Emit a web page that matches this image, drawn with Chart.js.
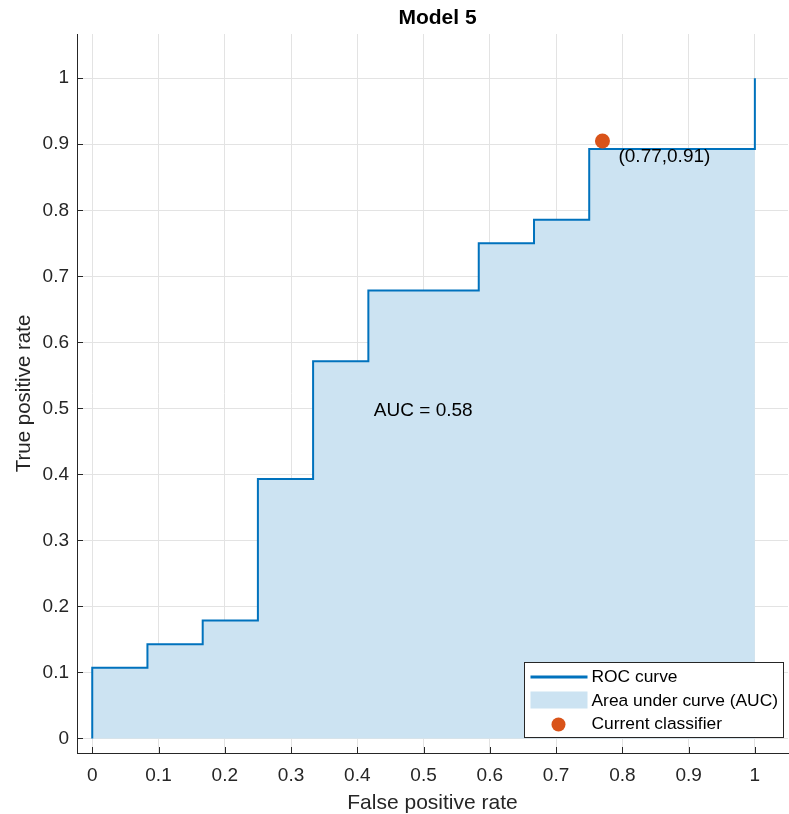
<!DOCTYPE html>
<html>
<head>
<meta charset="utf-8">
<script src="https://cdn.jsdelivr.net/npm/chart.js@4.4.1/dist/chart.umd.min.js"></script>
<style>
  body { margin: 0; background: #fff; }
  #wrap { width: 789px; height: 814px; }
</style>
</head>
<body>
<div id="wrap"><canvas id="canvas"></canvas></div>
<script>
// ROC curve vertices (false positive rate, true positive rate)
var fpr = [0, 0, 0.0833, 0.0833, 0.1667, 0.1667, 0.25, 0.25, 0.3333, 0.3333,
    0.4167, 0.4167, 0.5833, 0.5833, 0.6667, 0.6667, 0.75, 0.75, 1, 1];
var tpr = [0, 0.1071, 0.1071, 0.1429, 0.1429, 0.1786, 0.1786, 0.3929, 0.3929, 0.5714,
    0.5714, 0.6786, 0.6786, 0.75, 0.75, 0.7857, 0.7857, 0.8929, 0.8929, 1];
var classifierX = [0.77];
var classifierY = [0.905];
var pointLabel = "(0.77,0.91)";
var aucLabel = "AUC = 0.58";
var aucPos = [0.425, 0.497];
var tickValues = [0, 0.1, 0.2, 0.3, 0.4, 0.5, 0.6, 0.7, 0.8, 0.9, 1];
var tickLabels = ["0", "0.1", "0.2", "0.3", "0.4", "0.5", "0.6", "0.7", "0.8", "0.9", "1"];
var legendNames = ["ROC curve", "Area under curve (AUC)", "Current classifier"];
var titleText = "Model 5";

var FONT = "'Liberation Sans', Arial, Helvetica, sans-serif";
var TEXT = "#262626";
var BLUE = "#0072BD";
var AREA = "#cce3f2";
var ORANGE = "#D95319";

function rocPoints() {
    var pts = [];
    for (var i = 0; i < fpr.length; i++) {
        pts.push({ x: fpr[i], y: tpr[i] });
    }
    return pts;
}

function setTicks(scale) {
    scale.ticks = tickValues.map(v => ({ value: v }));
}

// inward ticks, text labels and legend box, matlab style
const extras = {
    id: "extras",
    afterDraw(chart) {
        const ctx = chart.ctx;
        const xs = chart.scales.x;
        const ys = chart.scales.y;
        const area = chart.chartArea;
        ctx.save();
        ctx.strokeStyle = TEXT;
        ctx.lineWidth = 1;
        ctx.beginPath();
        tickValues.forEach(v => {
            const px = Math.round(xs.getPixelForValue(v)) + 0.5;
            ctx.moveTo(px, area.bottom);
            ctx.lineTo(px, area.bottom - 6);
            const py = Math.round(ys.getPixelForValue(v)) + 0.5;
            ctx.moveTo(area.left, py);
            ctx.lineTo(area.left + 6, py);
        });
        ctx.stroke();

        // title
        ctx.fillStyle = "#000";
        ctx.font = "bold 21px " + FONT;
        ctx.textAlign = "center";
        ctx.textBaseline = "middle";
        ctx.fillText(titleText, (area.left + area.right) / 2 + 5, 18);

        // annotations
        ctx.font = "19px " + FONT;
        ctx.fillStyle = "#000";
        ctx.textAlign = "left";
        const cx = xs.getPixelForValue(classifierX[0]);
        const cy = ys.getPixelForValue(classifierY[0]);
        ctx.fillText(pointLabel, cx + 16, cy + 16);
        ctx.fillText(aucLabel, xs.getPixelForValue(aucPos[0]), ys.getPixelForValue(aucPos[1]));

        // legend
        const lx = 524.5, ly = 662.5, lw = 259, lh = 75;
        ctx.fillStyle = "#fff";
        ctx.fillRect(lx, ly, lw, lh);
        ctx.strokeStyle = "#262626";
        ctx.strokeRect(lx, ly, lw, lh);
        ctx.strokeStyle = BLUE;
        ctx.lineWidth = 3;
        ctx.beginPath();
        ctx.moveTo(lx + 6, ly + 14.5);
        ctx.lineTo(lx + 63, ly + 14.5);
        ctx.stroke();
        ctx.fillStyle = AREA;
        ctx.fillRect(lx + 6, ly + 29, 57, 17);
        ctx.fillStyle = ORANGE;
        ctx.beginPath();
        ctx.arc(lx + 34, ly + 62, 7, 0, Math.PI * 2);
        ctx.fill();
        ctx.fillStyle = "#000";
        ctx.font = "17.4px " + FONT;
        ctx.fillText(legendNames[0], lx + 67, ly + 15);
        ctx.fillText(legendNames[1], lx + 67, ly + 38.5);
        ctx.fillText(legendNames[2], lx + 67, ly + 62);
        ctx.restore();
    }
};

const canvas = document.getElementById("canvas");
const data = {
    datasets: [
        {
            label: legendNames[2],
            data: classifierX.map((x, i) => ({ x: x, y: classifierY[i] })),
            showLine: false,
            pointRadius: 7.5,
            pointBackgroundColor: ORANGE,
            pointBorderWidth: 0,
            order: 0
        },
        {
            label: legendNames[0],
            data: rocPoints(),
            borderColor: BLUE,
            borderWidth: 2,
            pointRadius: 0,
            fill: false,
            order: 1
        },
        {
            label: legendNames[1],
            data: rocPoints(),
            borderWidth: 0,
            borderColor: "rgba(0,0,0,0)",
            backgroundColor: AREA,
            pointRadius: 0,
            fill: "origin",
            order: 2
        }
    ]
};
const options = {
    responsive: true,
    maintainAspectRatio: false,
    animation: false,
    layout: { autoPadding: false, padding: { top: 34, right: 1, left: 0, bottom: 0 } },
    plugins: {
        legend: { display: false },
        tooltip: { enabled: false },
        title: { display: false }
    },
    scales: {
        x: {
            type: "linear",
            min: -0.023,
            max: 1.05,
            afterBuildTicks: setTicks,
            afterFit: s => { s.height = 61; s.paddingLeft = 0; s.paddingRight = 0; },
            grid: { color: "#e3e3e3", tickLength: 0, drawTicks: false },
            border: { color: TEXT, width: 1 },
            ticks: {
                color: TEXT,
                font: { size: 19, family: FONT },
                padding: 11,
                maxRotation: 0,
                callback: (v) => tickLabels[tickValues.indexOf(v)]
            },
            title: {
                display: true,
                text: "False positive rate",
                color: TEXT,
                font: { size: 21, family: FONT, lineHeight: 1 },
                padding: { top: 0, bottom: 0 }
            }
        },
        y: {
            type: "linear",
            min: -0.022,
            max: 1.067,
            afterBuildTicks: setTicks,
            afterFit: s => { s.width = 77; s.paddingTop = 0; s.paddingBottom = 0; },
            grid: { color: "#e3e3e3", tickLength: 0, drawTicks: false },
            border: { color: TEXT, width: 1 },
            ticks: {
                color: TEXT,
                font: { size: 19, family: FONT },
                padding: 8,
                callback: (v) => tickLabels[tickValues.indexOf(v)]
            },
            title: {
                display: true,
                text: "True positive rate",
                color: TEXT,
                font: { size: 20.5, family: FONT, lineHeight: 1 },
                padding: { top: 14.5, bottom: 0 }
            }
        }
    }
};
const config = {
    type: "line",
    data: data,
    options: options,
    plugins: [extras]
};
const chart = new Chart(canvas, config);
</script>
</body>
</html>
